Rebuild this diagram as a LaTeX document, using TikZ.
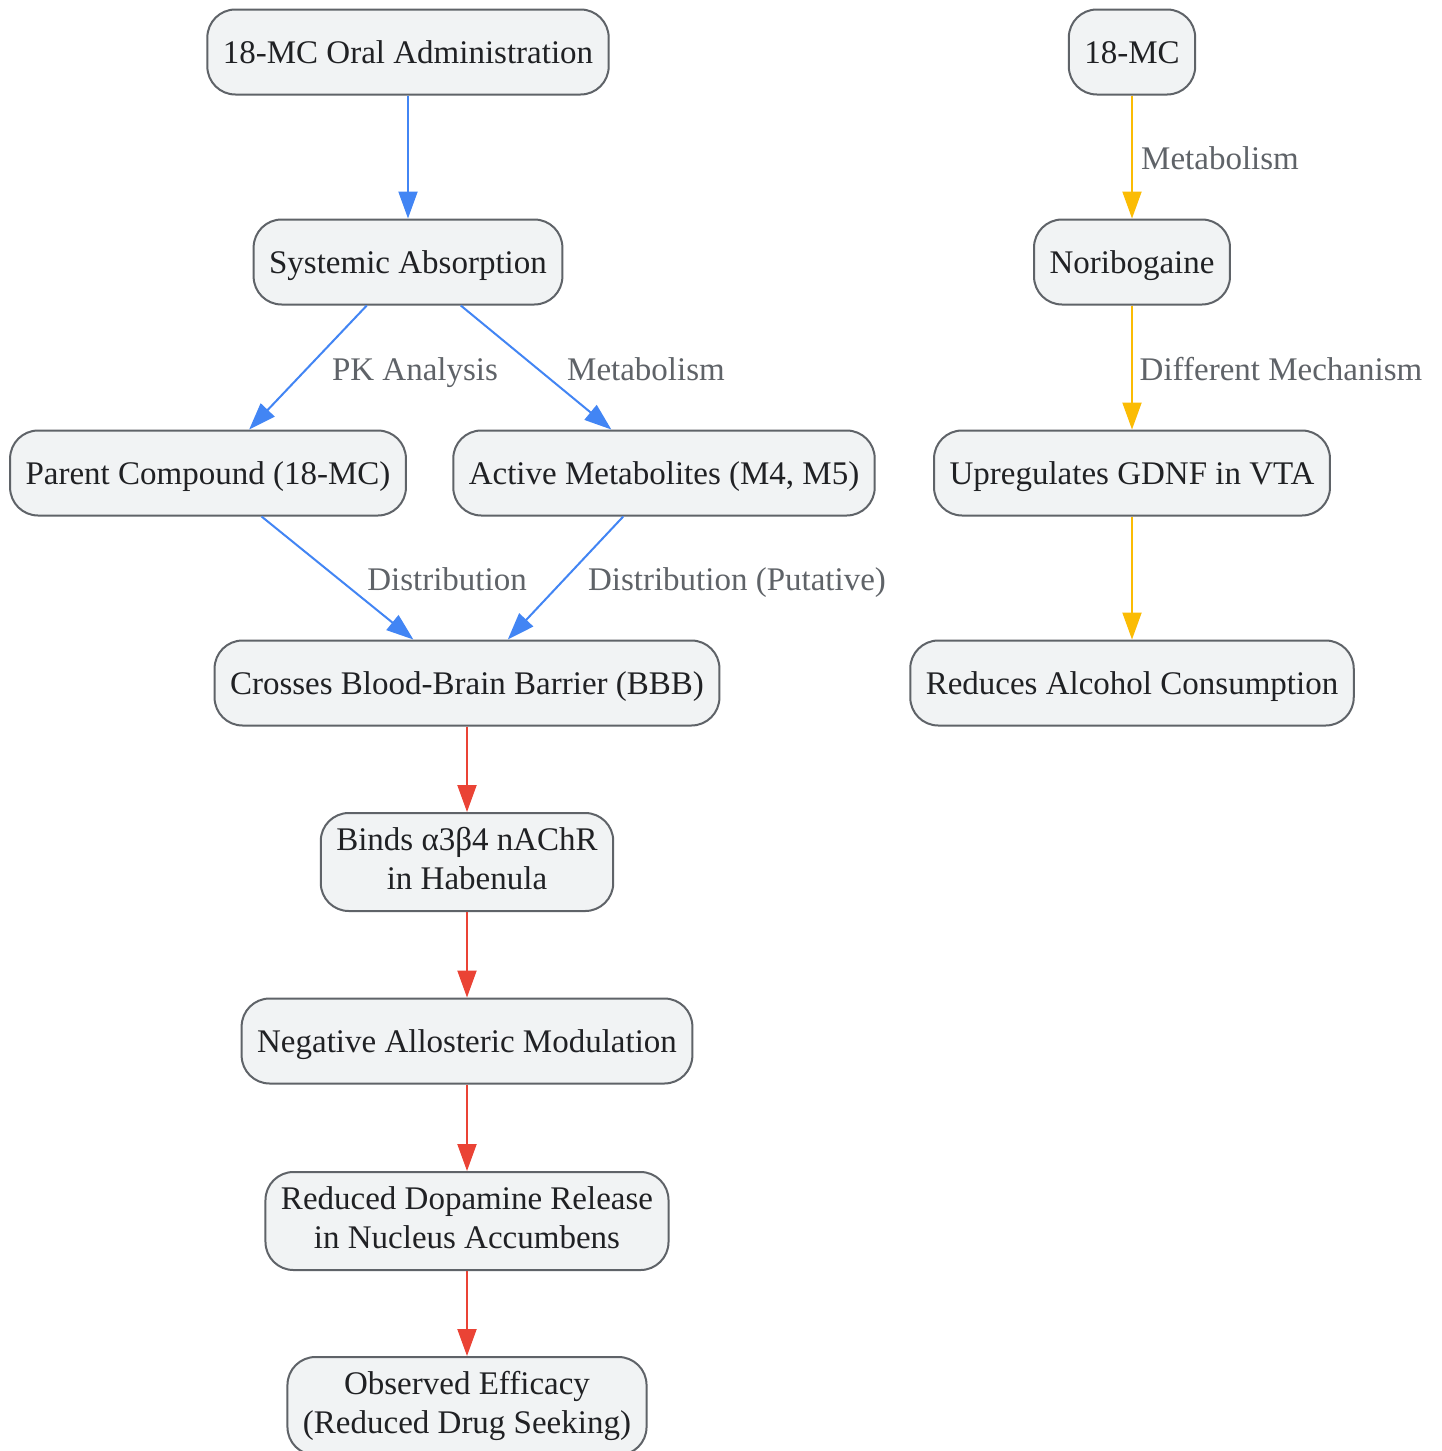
\documentclass[tikz,border=0pt]{standalone}
\usepackage{fontspec}
\setmainfont{Liberation Serif}
\usetikzlibrary{arrows.meta}
\definecolor{nodefill}{HTML}{F1F3F4}
\definecolor{nodeborder}{HTML}{5F6368}
\definecolor{textdark}{HTML}{202124}
\definecolor{lblgrey}{HTML}{5F6368}
\definecolor{eblue}{HTML}{4285F4}
\definecolor{ered}{HTML}{EA4335}
\definecolor{eyellow}{HTML}{FBBC04}
\begin{document}
\begin{tikzpicture}[x=1pt,y=-1pt,
  box/.style={draw=nodeborder, line width=2pt, fill=nodefill, rounded corners=28pt,
    minimum height=85pt, inner xsep=15.5pt, inner ysep=0pt, text=textdark,
    font=\fontsize{33}{39}\selectfont, align=center,
    execute at begin node={\rule{0pt}{29.4pt}},
    execute at end node={\rule[-7.1pt]{0pt}{7.1pt}}},
  twoline/.style={box, minimum height=98pt},
  conn/.style={line width=2pt, -{Triangle[length=27pt,width=19pt]}},
  blueconn/.style={conn, draw=eblue, fill=eblue},
  redconn/.style={conn, draw=ered, fill=ered},
  yelconn/.style={conn, draw=eyellow, fill=eyellow},
  lbl/.style={text=lblgrey, font=\fontsize{33}{39}\selectfont, inner sep=0pt, anchor=base}
]
\useasboundingbox (0,0) rectangle (1442,1451);
\fill[white] (0,0) rectangle (1442,1451);
% left column
\node[box] (A) at (408,52) {18-MC Oral Administration};
\node[box] (B) at (408,262) {Systemic Absorption};
\node[box] (C) at (208,473) {Parent Compound (18-MC)};
\node[box] (D) at (664,473) {Active Metabolites (M4, M5)};
\node[box] (E) at (467,683) {Crosses Blood-Brain Barrier (BBB)};
\node[twoline] (F) at (467,862) {Binds α3β4 nAChR\\in Habenula};
\node[box] (G) at (467,1041) {Negative Allosteric Modulation};
\node[twoline] (H) at (467,1221) {Reduced Dopamine Release\\in Nucleus Accumbens};
\node[twoline] (I) at (467,1406) {Observed Efficacy\\(Reduced Drug Seeking)};
% right column
\node[box] (R1) at (1132,52) {18-MC};
\node[box] (R2) at (1132,262) {Noribogaine};
\node[box] (R3) at (1132,473) {Upregulates GDNF in VTA};
\node[box] (R4) at (1132,683) {Reduces Alcohol Consumption};
% edge labels
\node[lbl] (l1) at (415,380) {PK Analysis};
\node[lbl] (l2) at (646,380) {Metabolism};
\node[lbl] (l3) at (447,590) {Distribution};
\node[lbl] (l4) at (737,590) {Distribution (Putative)};
\node[lbl] (l5) at (1220,169) {Metabolism};
\node[lbl] (l6) at (1281,380) {Different Mechanism};
% connectors
\draw[blueconn] (A) -- (B);
\draw[blueconn] (B) -- (C);
\draw[blueconn] (B) -- (D);
\draw[blueconn] (C) -- (E);
\draw[blueconn] (D) -- (E);
\draw[redconn] (E) -- (F);
\draw[redconn] (F) -- (G);
\draw[redconn] (G) -- (H);
\draw[redconn] (H) -- (I);
\draw[yelconn] (R1) -- (R2);
\draw[yelconn] (R2) -- (R3);
\draw[yelconn] (R3) -- (R4);
\end{tikzpicture}
\end{document}
